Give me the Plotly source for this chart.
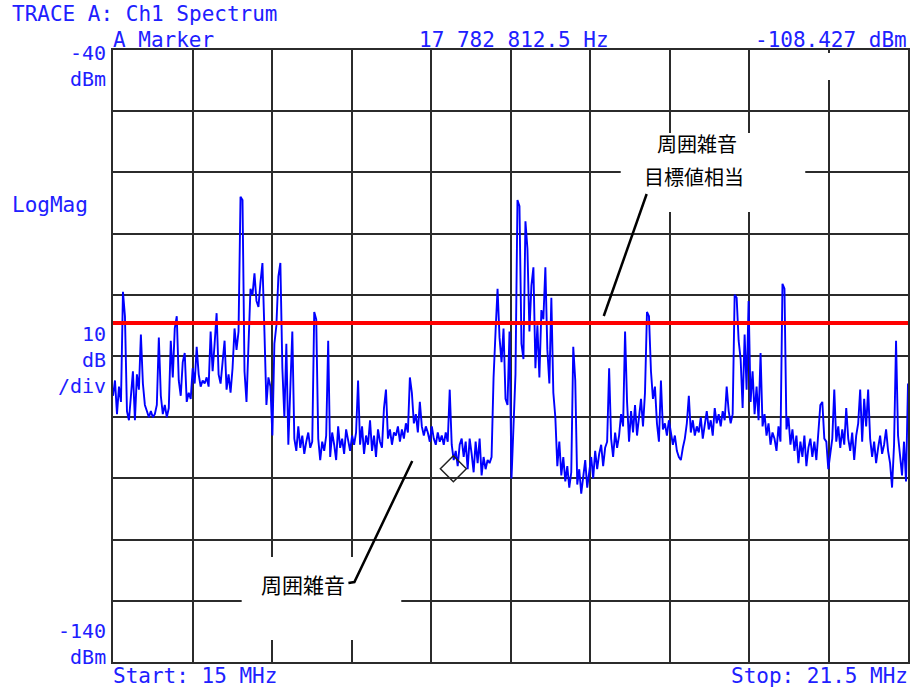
import numpy as np
import plotly.graph_objects as go

# ---------------- data ----------------
start_mhz = 15.0
stop_mhz = 21.5
ref_top_dbm = -40
ref_bottom_dbm = -140
target_dbm = -84.6           # red line: ambient-noise target level
marker_mhz = 17.7828125
marker_dbm = -108.427

sec_a = [-96.5, -94.0, -99.5, -95.0, -97.5, -79.5, -83.5, -99.0, -100.5, -97.0,
         -92.5, -100.5, -93.0, -95.5, -86.5, -94.5, -98.0, -99.0, -100.0, -99.0,
         -100.0, -99.5, -98.0, -87.0, -96.5, -99.5, -98.0, -100.0, -98.5, -87.5,
         -93.5, -85.5, -83.5, -94.0, -96.5, -91.0, -89.5, -97.5, -96.0, -97.0,
         -92.0, -94.5, -88.5, -93.0, -95.0, -94.0, -94.5, -93.5, -95.0, -86.0,
         -92.5, -88.0, -83.0, -93.0, -94.5, -91.0, -87.5, -95.5, -93.0, -96.0,
         -92.0, -85.5, -89.0, -86.0, -64.0, -64.5, -92.5, -97.5, -89.0, -79.0,
         -80.0, -76.5, -81.0, -82.0, -78.0, -74.8, -86.0, -98.0, -93.5, -95.0]
sec_b = [-103.0, -88.0, -85.0, -77.0, -74.8, -92.0, -100.0, -88.0, -104.5, -95.0,
         -86.0, -103.5, -105.5, -101.5, -105.0, -103.0, -106.0, -104.0, -102.5, -105.0,
         -104.0, -82.8, -84.0, -103.5, -107.0, -104.0, -105.5, -103.0, -87.5, -106.5,
         -102.5, -104.5, -107.0, -101.5, -105.0, -103.5, -106.0, -102.0, -104.0, -105.5,
         -103.0, -104.5, -102.5, -94.0, -104.5, -101.5, -106.0, -103.0, -104.5, -100.5,
         -105.5, -103.0, -106.5, -102.0, -104.0]
sec_c = [-105.0, -98.5, -95.5, -103.5, -102.0, -104.5, -102.5, -103.0, -101.5, -104.0,
         -102.0, -103.5, -101.0, -102.5, -93.5, -96.0, -101.0, -99.5, -102.5, -97.5,
         -101.5, -103.0, -101.5, -102.5, -104.0, -101.5, -103.5, -104.5, -102.5, -104.0,
         -103.0, -104.5, -102.5, -104.0, -95.5, -104.5, -107.0, -105.5, -108.0, -104.5,
         -103.5, -106.5, -104.0, -108.5, -103.5, -106.0, -109.0, -104.0, -107.5, -103.5,
         -109.5, -106.5, -108.5, -107.0, -107.5, -106.5, -93.5]
sec_d = [-86.0, -79.0, -87.0, -91.0, -85.5, -97.0, -98.0, -86.0, -110.0, -100.0,
         -93.0, -64.5, -65.5, -88.0, -90.5, -68.0, -72.5, -86.0, -78.5, -75.5,
         -92.0, -85.0, -93.5, -82.5, -84.0, -75.5, -89.0, -94.5, -80.5, -96.0,
         -100.0, -108.0, -104.0]
sec_e = [-109.5, -106.5, -110.5, -108.0, -111.5, -109.0, -88.5, -94.0, -111.0, -108.5,
         -112.5, -110.0, -107.0, -111.5, -109.0, -106.5, -110.0, -105.5, -108.5, -106.0,
         -104.5, -108.0, -105.0, -104.0, -92.0, -103.5, -106.5, -102.5, -105.0, -103.0,
         -99.5, -101.5, -86.0, -97.5, -104.0, -99.0, -102.5, -98.0, -103.0, -99.5,
         -97.0, -101.5, -96.0]
sec_f = [-82.8, -83.5, -92.5, -97.0, -95.0, -101.0, -104.0, -94.0, -102.0, -101.0,
         -103.0, -100.5, -102.5, -104.5, -103.0, -105.5, -106.5, -107.0, -105.0, -103.5,
         -101.0, -96.5, -102.5, -100.5, -103.0, -101.5, -102.5, -100.0, -103.5, -101.0,
         -99.0, -102.0, -100.5, -103.0, -98.5, -101.0, -99.5, -101.5, -99.0, -100.5,
         -95.0, -99.0, -101.0, -99.5]
sec_g = [-80.0, -80.5, -87.5, -90.5, -98.5, -86.5, -95.5, -81.0, -97.5, -92.5,
         -99.5, -95.0, -100.5, -89.5, -101.5, -99.5, -103.0, -101.0, -104.5, -102.5,
         -103.5, -105.5, -101.5, -104.0, -78.2, -79.0, -102.0, -100.0, -104.5, -102.0,
         -105.5, -103.0, -107.5, -104.0, -106.5, -103.0, -108.0, -105.0, -103.5, -106.5,
         -104.0, -107.0, -102.5, -98.0, -97.5, -103.5, -104.0, -108.5, -106.0, -103.5,
         -95.5, -104.0, -101.5, -105.0, -102.0, -104.5, -98.5, -103.5, -105.5, -102.5,
         -107.0, -103.0, -101.0, -95.5, -104.0, -97.0, -101.5, -95.5, -103.5, -106.5,
         -104.0, -107.5, -105.0, -103.0, -106.0, -104.5, -102.0, -105.5, -107.5, -111.5,
         -104.5, -87.5, -103.0, -106.0, -109.5, -104.0, -110.5, -94.5]

spectrum_dbm = sec_a + sec_b + sec_c + sec_d + sec_e + sec_f + sec_g
freq_mhz = np.linspace(start_mhz, stop_mhz, len(spectrum_dbm))

# header / label texts
title_text = "TRACE A: Ch1 Spectrum"
marker_label = "A Marker"
marker_freq_text = "17 782 812.5 Hz"
marker_level_text = "-108.427 dBm"
top_label = "-40<br>dBm"
scale_label = "10<br>dB<br>/div"
bottom_label = "-140<br>dBm"
format_label = "LogMag"
start_text = "Start: 15 MHz"
stop_text = "Stop: 21.5 MHz"
note_target = ["周囲雑音", "目標値相当"]
note_ambient = "周囲雑音"

# ---------------- layout helpers (pixel -> paper) ----------------
W, H = 914, 688
L, R, T, B = 113, 910, 50, 662


def pxx(x):
    return (x - L) / (R - L)


def pxy(y):
    return (B - y) / (B - T)


def dx(x):
    return start_mhz + (x - L) / (R - L) * (stop_mhz - start_mhz)


def dy(y):
    return ref_top_dbm - (y - T) / (B - T) * (ref_top_dbm - ref_bottom_dbm)


BLUE = "#2020ff"
MONO = "DejaVu Sans Mono, Liberation Mono, monospace"
CJK = "Noto Sans CJK JP, Noto Sans CJK SC, sans-serif"
GRID = "#2b2b2b"

fig = go.Figure()
fig.add_trace(go.Scatter(x=freq_mhz, y=spectrum_dbm, mode="lines",
                         line=dict(color="#0000ff", width=1.9), hoverinfo="skip"))
fig.add_trace(go.Scatter(x=[start_mhz, stop_mhz], y=[target_dbm, target_dbm], mode="lines",
                         line=dict(color="#ff0000", width=4), hoverinfo="skip", cliponaxis=False))
fig.add_trace(go.Scatter(x=[marker_mhz], y=[marker_dbm], mode="markers",
                         marker=dict(symbol="diamond-open", size=20, color="#222222",
                                     line=dict(width=1.5, color="#222222")), hoverinfo="skip"))

shapes = []
# white boxes hiding the grid behind the notes
for (x0, y0, x1, y1) in [(622, 133, 807, 212), (242, 557, 402, 640), (829, 53, 837, 80)]:
    shapes.append(dict(type="rect", xref="x", yref="y", x0=dx(x0), x1=dx(x1), y0=dy(y0), y1=dy(y1),
                       fillcolor="white", line=dict(width=0), layer="between"))
# leader lines
shapes.append(dict(type="line", xref="x", yref="y", x0=dx(605), y0=dy(316), x1=dx(648), y1=dy(194),
                   line=dict(color="black", width=2.5), layer="above"))
shapes.append(dict(type="path", xref="x", yref="y",
                   path=f"M {dx(413)} {dy(461)} L {dx(355)} {dy(582)} L {dx(349)} {dy(583)}",
                   line=dict(color="black", width=2.5), layer="above"))

ann = []


def txt(s, x, y, anchor="left", color=BLUE, font=MONO, size=21, yanchor="middle"):
    ann.append(dict(text=s, x=pxx(x), y=pxy(y), xref="paper", yref="paper",
                    xanchor=anchor, yanchor=yanchor, showarrow=False,
                    align=anchor if anchor != "center" else "center",
                    font=dict(family=font, size=size, color=color)))


txt(title_text, 10, 14)
txt(marker_label, 111, 40)
txt(marker_freq_text, 418, 40)
txt(marker_level_text, 911, 40, "right")
txt(top_label, 108, 66, "right", size=20)
txt(format_label, 10, 205)
txt(scale_label, 108, 360, "right", size=20)
txt(bottom_label, 108, 644, "right", size=20)
txt(start_text, 111, 676)
txt(stop_text, 912, 676, "right")
txt(note_target[0], 698, 160, "center", "black", CJK, 20, "bottom")
txt(note_target[1], 695, 160, "center", "black", CJK, 20, "top")
txt(note_ambient, 303, 584, "center", "black", CJK, 21)

axis_common = dict(showgrid=True, gridcolor=GRID, gridwidth=2, zeroline=False,
                   showline=True, linecolor=GRID, linewidth=2, mirror=True,
                   showticklabels=False, ticks="")

fig.update_layout(
    width=W, height=H,
    margin=dict(l=L, r=W - R, t=T, b=H - B, pad=0),
    paper_bgcolor="white", plot_bgcolor="white",
    showlegend=False,
    xaxis=dict(range=[start_mhz, stop_mhz], tick0=start_mhz, dtick=(stop_mhz - start_mhz) / 10,
               **axis_common),
    yaxis=dict(range=[ref_bottom_dbm, ref_top_dbm], tick0=ref_bottom_dbm, dtick=10, **axis_common),
    shapes=shapes,
    annotations=ann,
)

fig.write_html("out.html", config={"displayModeBar": False},
               post_script="document.body.style.margin='0';document.body.style.overflow='hidden';")
